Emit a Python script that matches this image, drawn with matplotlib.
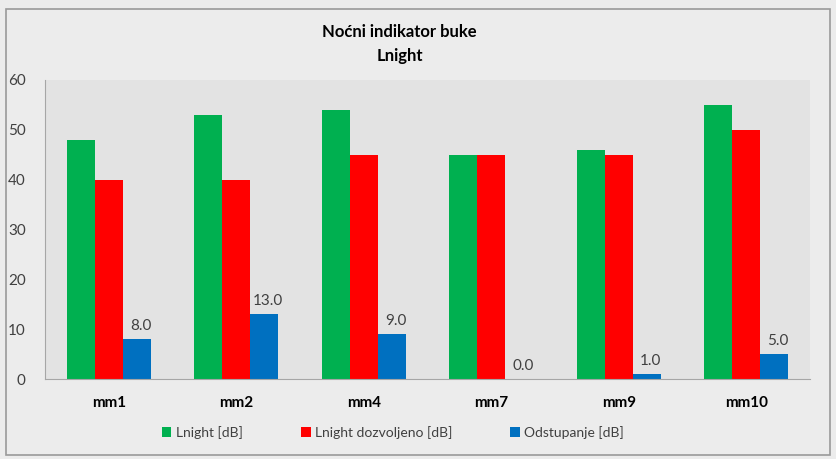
import matplotlib.pyplot as plt
import matplotlib.patches as patches
import numpy as np

# data
locations = ["mm1", "mm2", "mm4", "mm7", "mm9", "mm10"]
lnight = [48, 53, 54, 45, 46, 55]
lnight_allowed = [40, 40, 45, 45, 45, 50]
deviation = [8, 13, 9, 0, 1, 5]

plt.rcParams["font.family"] = ["Lato", "DejaVu Sans"]

fig = plt.figure(figsize=(8.36, 4.59), dpi=100)
fig.patch.set_facecolor("#ececec")
ax = fig.add_axes([0.054, 0.174, 0.915, 0.652])
ax.set_facecolor("#e3e3e3")

# outer frame
fig.patches.append(patches.Rectangle((0.007, 0.009), 0.986, 0.972, transform=fig.transFigure,
                                     fill=False, edgecolor="#9a9a9a", linewidth=1.2))

x = np.arange(len(locations))
w = 0.22
ax.bar(x - w, lnight, w, color="#00b050", label="Lnight [dB]")
ax.bar(x, lnight_allowed, w, color="#ff0000", label="Lnight dozvoljeno [dB]")
blue = ax.bar(x + w, deviation, w, color="#0070c0", label="Odstupanje [dB]")

for rect, v in zip(blue, deviation):
    ax.annotate(f"{v:.1f}", (rect.get_x() + rect.get_width() / 2 + 0.03, v + 1.2),
                ha="center", va="bottom", fontsize=11, color="#404040")

ax.set_xlim(-0.5, len(locations) - 0.5)
ax.set_ylim(0, 60)
ax.set_yticks(range(0, 61, 10))
ax.set_xticks(x)
ax.set_xticklabels(locations, fontweight="bold", fontsize=11)
ax.tick_params(axis="both", length=0, labelsize=11, colors="#404040")
ax.tick_params(axis="x", pad=12, labelcolor="black")
ax.tick_params(axis="y", pad=14)
for s in ["top", "right"]:
    ax.spines[s].set_visible(False)
for s in ["left", "bottom"]:
    ax.spines[s].set_color("#a6a6a6")

fig.text(0.478, 0.904, "Noćni indikator buke\nLnight", ha="center", va="center",
         fontsize=12, fontweight="bold", linespacing=1.6)

fig.legend(loc="center", bbox_to_anchor=(0.47, 0.058), ncol=3, frameon=False,
           fontsize=10, handlelength=0.7, handleheight=0.7, handletextpad=0.3,
           columnspacing=4.2, labelcolor="#404040")

plt.savefig("out.png", dpi=100)
